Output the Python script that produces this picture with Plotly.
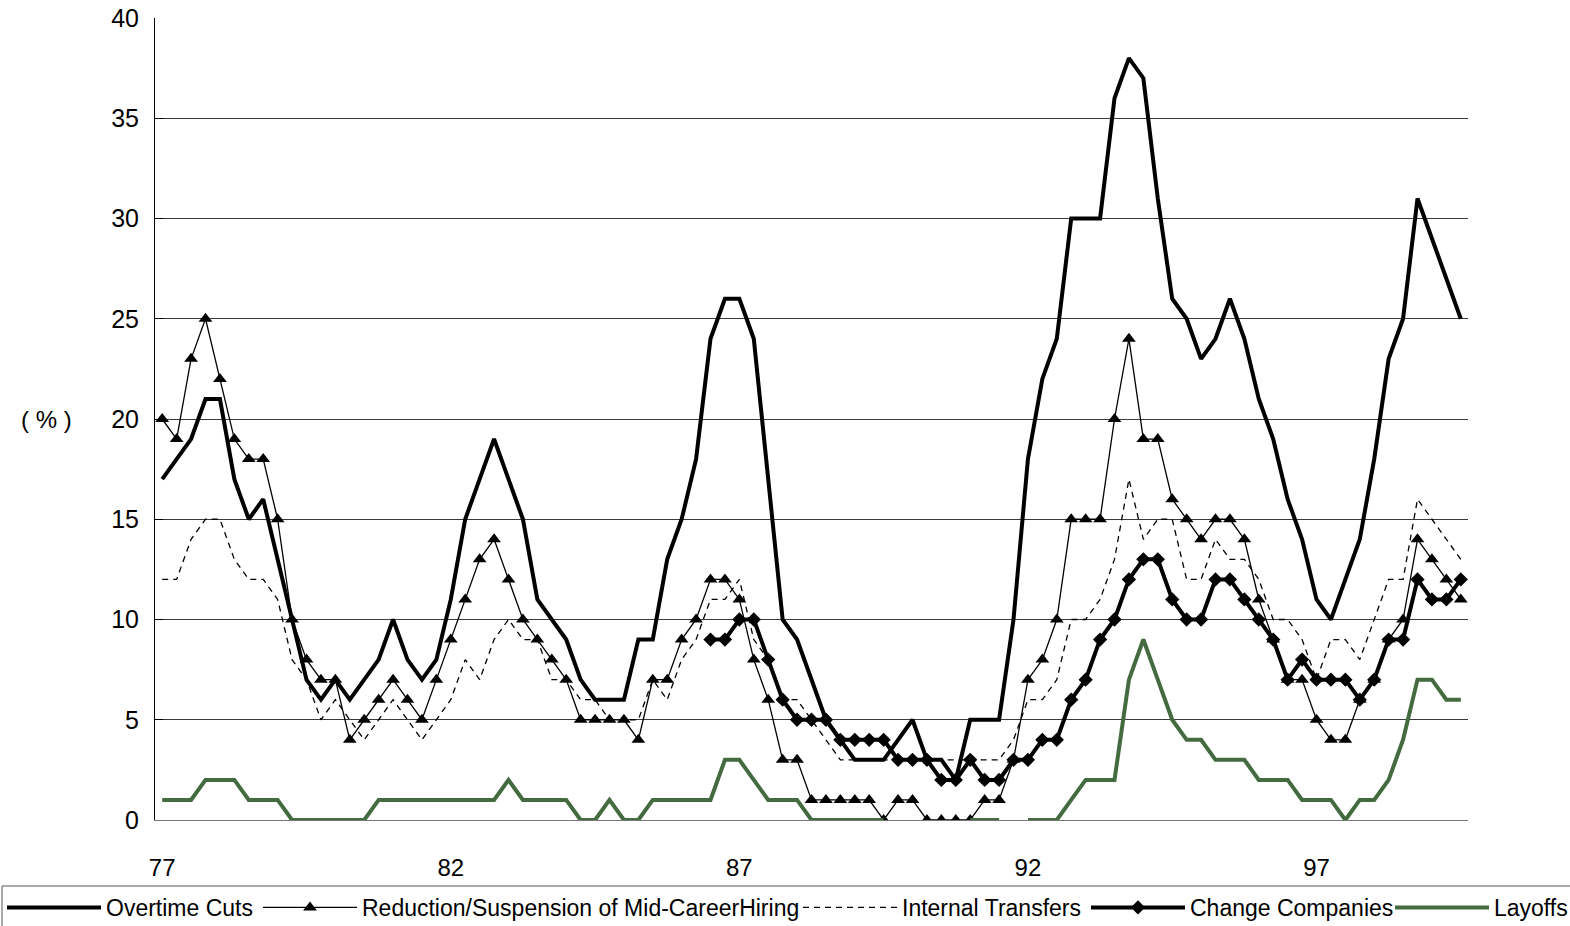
import plotly.graph_objects as go

# ---- categories (quarterly, 1977Q1 .. 1999Q3) ----
years = list(range(1977, 2000))
quarters = [f"{y}Q{q}" for y in years for q in (1, 2, 3, 4)][:91]
x_tick_quarters = ["1977Q1", "1982Q1", "1987Q1", "1992Q1", "1997Q1"]
x_tick_labels = ["77", "82", "87", "92", "97"]
y_tick_values = [0, 5, 10, 15, 20, 25, 30, 35, 40]

# ---- series values (%) ----
overtime_cuts = [17, 18, 19, 21, 21, 17, 15, 16, 13, 10,
                 7, 6, 7, 6, 7, 8, 10, 8, 7, 8,
                 11, 15, 17, 19, 17, 15, 11, 10, 9, 7,
                 6, 6, 6, 9, 9, 13, 15, 18, 24, 26,
                 26, 24, 17, 10, 9, 7, 5, 4, 3, 3,
                 3, 4, 5, 3, 3, 2, 5, 5, 5, 10,
                 18, 22, 24, 30, 30, 30, 36, 38, 37, 31,
                 26, 25, 23, 24, 26, 24, 21, 19, 16, 14,
                 11, 10, 12, 14, 18, 23, 25, 31, 29, 27,
                 25]

midcareer_hiring = [20, 19, 23, 25, 22, 19, 18, 18, 15, 10,
                    8, 7, 7, 4, 5, 6, 7, 6, 5, 7,
                    9, 11, 13, 14, 12, 10, 9, 8, 7, 5,
                    5, 5, 5, 4, 7, 7, 9, 10, 12, 12,
                    11, 8, 6, 3, 3, 1, 1, 1, 1, 1,
                    0, 1, 1, 0, 0, 0, 0, 1, 1, 3,
                    7, 8, 10, 15, 15, 15, 20, 24, 19, 19,
                    16, 15, 14, 15, 15, 14, 11, 9, 7, 7,
                    5, 4, 4, 6, 7, 9, 10, 14, 13, 12,
                    11]

internal_transfers = [12, 12, 14, 15, 15, 13, 12, 12, 11, 8,
                      7, 5, 6, 5, 4, 5, 6, 5, 4, 5,
                      6, 8, 7, 9, 10, 9, 9, 7, 7, 6,
                      6, 5, 5, 5, 7, 6, 8, 9, 11, 11,
                      12, 9, 8, 6, 6, 5, 4, 3, 3, 3,
                      3, 3, 3, 3, 3, 3, 3, 3, 3, 4,
                      6, 6, 7, 10, 10, 11, 13, 17, 14, 15,
                      15, 12, 12, 14, 13, 13, 12, 10, 10, 9,
                      7, 9, 9, 8, 10, 12, 12, 16, 15, 14,
                      13]

change_companies_start = "1986Q3"
change_companies = [9, 9, 10, 10, 8, 6, 5, 5, 5, 4,
                    4, 4, 4, 3, 3, 3, 2, 2, 3, 2,
                    2, 3, 3, 4, 4, 6, 7, 9, 10, 12,
                    13, 13, 11, 10, 10, 12, 12, 11, 10, 9,
                    7, 8, 7, 7, 7, 6, 7, 9, 9, 12,
                    11, 11, 12]

layoffs = [1, 1, 1, 2, 2, 2, 1, 1, 1, 0,
           0, 0, 0, 0, 0, 1, 1, 1, 1, 1,
           1, 1, 1, 1, 2, 1, 1, 1, 1, 0,
           0, 1, 0, 0, 1, 1, 1, 1, 1, 3,
           3, 2, 1, 1, 1, 0, 0, 0, 0, 0,
           0, None, None, None, None, None, 0, 0, 0, None,
           0, 0, 0, 1, 2, 2, 2, 7, 9, 7,
           5, 4, 4, 3, 3, 3, 2, 2, 2, 1,
           1, 1, 0, 1, 1, 2, 4, 7, 7, 6,
           6]

series_names = ["Overtime Cuts",
                "Reduction/Suspension of Mid-CareerHiring",
                "Internal Transfers",
                "Change Companies",
                "Layoffs"]

cc_start = quarters.index(change_companies_start)
change_quarters = quarters[cc_start:cc_start + len(change_companies)]

FONT = "Liberation Sans, Arial, sans-serif"
GREEN = "#436B3F"

# page geometry (px) of the plot area
W, H = 1570, 926
ML, MR, MT, MB = 155, 102, 18, 106
PW, PH = W - ML - MR, H - MT - MB
LEG_TOP = 886          # top edge of the legend frame
LEG_LEFT = 2           # left edge of the legend frame
ITEMW = 94             # legend line-sample length

def px_x(px):
    return (px - ML) / PW

def px_y(py):
    return (H - MB - py) / PH

fig = go.Figure()
fig.add_trace(go.Scatter(x=quarters, y=overtime_cuts, name=series_names[0], mode="lines",
                         line=dict(color="black", width=4), legendwidth=147))
fig.add_trace(go.Scatter(x=quarters, y=midcareer_hiring, name=series_names[1], mode="lines+markers",
                         line=dict(color="black", width=1.3),
                         marker=dict(symbol="triangle-up", size=12, color="black"),
                         legendwidth=431))
fig.add_trace(go.Scatter(x=quarters, y=internal_transfers, name=series_names[2], mode="lines",
                         line=dict(color="black", width=1.3, dash="6px,5px"), legendwidth=179))
fig.add_trace(go.Scatter(x=change_quarters, y=change_companies, name=series_names[3], mode="lines+markers",
                         line=dict(color="black", width=4),
                         marker=dict(symbol="diamond", size=11, color="black"),
                         legendwidth=215))
fig.add_trace(go.Scatter(x=quarters, y=layoffs, name=series_names[4], mode="lines",
                         line=dict(color=GREEN, width=4), connectgaps=False,
                         legend="legend2"))

n = len(quarters)
boundaries = [k - 0.5 for k in range(5, n, 5)]

legend_common = dict(orientation="h", xref="paper", yref="paper", xanchor="left",
                     y=px_y(LEG_TOP), yanchor="top", borderwidth=0,
                     bgcolor="rgba(255,255,255,0)",
                     font=dict(family=FONT, size=23, color="black"),
                     itemwidth=ITEMW, tracegroupgap=0)

fig.update_layout(
    width=W, height=H,
    margin=dict(l=ML, r=MR, t=MT, b=MB, autoexpand=False),
    paper_bgcolor="white", plot_bgcolor="white",
    font=dict(family=FONT, color="black", size=22),
    showlegend=True,
    legend=dict(legend_common, x=px_x(LEG_LEFT)),
    legend2=dict(legend_common, x=px_x(1390)),
    xaxis=dict(type="category", categoryorder="array", categoryarray=quarters,
               range=[-0.5, n - 0.5], tickmode="array",
               tickvals=x_tick_quarters, ticktext=x_tick_labels,
               ticks="", showline=True, linecolor="#777", linewidth=1,
               showgrid=False, zeroline=False,
               tickfont=dict(family=FONT, size=24), ticklabelstandoff=26),
    xaxis2=dict(overlaying="x", anchor="y", side="bottom", type="linear",
                range=[-0.5, n - 0.5], tickmode="array", tickvals=boundaries,
                ticks="inside", ticklen=8, tickcolor="#555", tickwidth=1,
                showticklabels=False, showgrid=False, showline=False, zeroline=False),
    yaxis=dict(range=[0, 40], tickmode="array", tickvals=y_tick_values,
               showgrid=True, gridcolor="#3a3a3a", gridwidth=1,
               showline=True, linecolor="black", linewidth=1,
               ticks="inside", ticklen=8, tickcolor="black",
               zeroline=False, tickfont=dict(family=FONT, size=25),
               ticklabelstandoff=10),
    yaxis2=dict(overlaying="y", anchor="x", side="right", range=[0, 40],
                showline=True, linecolor="#888", linewidth=1,
                showticklabels=False, ticks="", showgrid=False, zeroline=False),
    annotations=[dict(text="( % )", xref="paper", yref="y", x=px_x(47), y=20,
                      xanchor="center", showarrow=False,
                      font=dict(family=FONT, size=24, color="black"))],
    shapes=[dict(type="rect", xref="paper", yref="paper",
                 x0=px_x(LEG_LEFT), x1=px_x(W + 10),
                 y0=px_y(H + 10), y1=px_y(LEG_TOP),
                 line=dict(color="#555", width=1), fillcolor="rgba(0,0,0,0)",
                 layer="below")],
)

fig.write_html("out.html", config={"displayModeBar": False},
               post_script="document.body.style.margin='0';")
